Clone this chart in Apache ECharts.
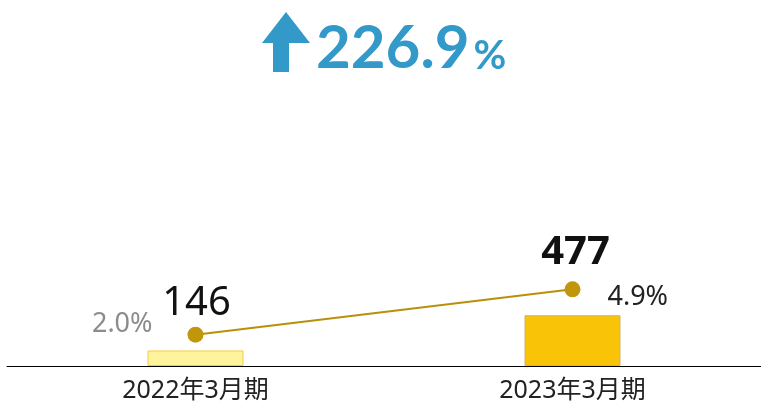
<!DOCTYPE html>
<html>
<head>
<meta charset="utf-8">
<script src="https://cdn.jsdelivr.net/npm/echarts@6/dist/echarts.min.js"></script>
<style>
  html, body { margin: 0; padding: 0; background: #fff; }
  #chart { width: 761px; height: 409px; }
</style>
</head>
<body>
<div id="chart"></div>
<script>
var periods = ['2022年3月期', '2023年3月期'];
var amounts = [146, 477];
var ratios = [2.0, 4.9];
var growthText = '226.9';

var chart = echarts.init(document.getElementById('chart'));

var fontFamily = '"Noto Sans", "Noto Sans CJK JP", sans-serif';

// bar labels sit up near the line points, so each one gets its own offset
var barData = amounts.map(function (v, i) {
    return {
        value: v,
        itemStyle: i === 0
            ? { color: '#fff39c', borderColor: '#f2cc44', borderWidth: 1 }
            : { color: '#f9c408', borderColor: '#cfb36a', borderWidth: 1 },
        label: i === 0
            ? { show: true, position: 'top', offset: [1, -22], fontSize: 40, color: '#111', fontFamily: fontFamily }
            : { show: true, position: 'top', offset: [3, -38], fontSize: 40, fontWeight: 'bold', color: '#111', fontFamily: fontFamily }
    };
});

var lineData = ratios.map(function (v, i) {
    return {
        value: v,
        label: i === 0
            ? { show: true, position: 'left', distance: 35, offset: [0, -10], color: '#8c8c8c', fontSize: 27, fontFamily: fontFamily }
            : { show: true, position: 'right', distance: 27, offset: [0, 8], color: '#222', fontSize: 27, fontFamily: fontFamily }
    };
});

var option = {
    animation: false,
    grid: { left: 7, right: 0, top: 100, bottom: 43 },
    xAxis: {
        type: 'category',
        data: periods,
        axisLine: { lineStyle: { color: '#000', width: 1 } },
        axisTick: { show: false },
        axisLabel: { fontSize: 25, color: '#222', margin: 12, fontFamily: fontFamily }
    },
    yAxis: [
        { type: 'value', min: 0, max: 2500, show: false, splitLine: { show: false } },
        { type: 'value', min: 0, max: 17, show: false, splitLine: { show: false } }
    ],
    series: [
        {
            name: 'amount',
            type: 'bar',
            barWidth: 96,
            data: barData
        },
        {
            name: 'ratio',
            type: 'line',
            yAxisIndex: 1,
            data: lineData,
            symbol: 'circle',
            symbolSize: 16,
            lineStyle: { color: '#b8900c', width: 2 },
            itemStyle: { color: '#c0960a' },
            label: {
                formatter: function (p) { return p.value.toFixed(1) + '%'; }
            }
        }
    ],
    graphic: [
        {
            type: 'polygon',
            shape: { points: [[286, 12], [310, 43], [289, 43], [289, 72], [273, 72], [273, 43], [262, 43]] },
            style: { fill: '#3399c8' }
        },
        {
            type: 'text',
            left: 316,
            top: 19,
            style: {
                text: '{a|' + growthText + '}{b|%}',
                rich: {
                    a: { fontSize: 60, fontWeight: 'bold', fill: '#3399c8', fontFamily: 'Lato, sans-serif' },
                    b: { fontSize: 40, fontWeight: 'bold', fill: '#3399c8', fontFamily: 'Lato, sans-serif', padding: [14, 0, 0, 4] }
                }
            }
        }
    ]
};

chart.setOption(option);
</script>
</body>
</html>
